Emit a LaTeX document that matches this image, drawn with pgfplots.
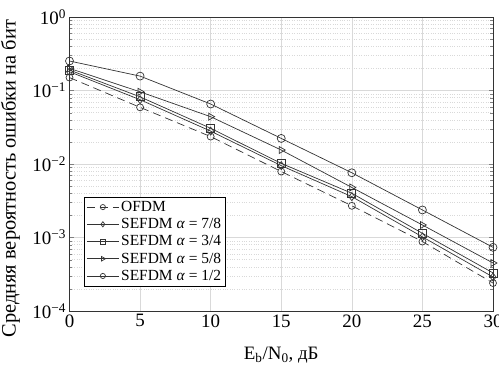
\documentclass[border=0pt]{standalone}
\usepackage{fontspec}
\setmainfont{Liberation Serif}
\usepackage{pgfplots}
\pgfplotsset{compat=1.18}
\begin{document}
\begin{tikzpicture}
\useasboundingbox (-69.5bp,-56bp) rectangle (429.5bp,311bp);
\begin{axis}[
  at={(0,0)}, anchor=south west,
  scale only axis, width=423.5bp, height=294bp,
  ymode=log, xmin=0, xmax=30, ymin=1e-4, ymax=1,
  xtick={0,5,...,30},
  ytick={1e-4,1e-3,1e-2,1e-1,1},
  yticklabels={10\textsuperscript{−4},10\textsuperscript{−3},10\textsuperscript{−2},10\textsuperscript{−1},10\textsuperscript{0}},
  /pgf/number format/assume math mode=true,
  tick label style={font=\fontsize{19}{21}\selectfont},
  xtick style={draw=none},
  xmajorgrids, ymajorgrids, yminorgrids,
  major grid style={gray!30},
  minor grid style={gray!30, dotted},
  tick align=inside,
  axis line style={black!80},
  xlabel={E\textsubscript{b}/N\textsubscript{0}, дБ},
  ylabel={Средняя вероятность ошибки на бит},
  xlabel style={font=\fontsize{19}{21}\selectfont, at={(axis description cs:0.5,-0.15)}, anchor=center},
  ylabel style={font=\fontsize{20.5}{22}\selectfont, at={(axis description cs:-0.1395,0.45)}, anchor=center},
  legend style={at={(rel axis cs:0.035,0.085)}, anchor=south west, draw=black,
    font=\fontsize{15.5}{17}\selectfont, row sep=1.5pt, inner sep=2pt},
  legend cell align=left,
  legend image post style={mark size=2.6bp},
  every axis plot/.append style={black!80, line width=0.7pt, mark size=4bp, mark options={solid, fill=none},
    legend image code/.code={\draw[mark repeat=2,mark phase=2,##1] plot coordinates {(0bp,0bp) (16bp,0bp) (32bp,0bp)};}},
]
\addplot[dash pattern=on 8pt off 5pt, mark=o, mark size=3.5bp] coordinates {(0,0.15) (5,0.059) (10,0.0236) (15,0.0079) (20,0.0027) (25,0.00088) (30,0.00024)};
\addlegendentry{OFDM}
\addplot[mark=diamond] coordinates {(0,0.18) (5,0.075) (10,0.028) (15,0.0095) (20,0.0036) (25,0.00102) (30,0.00029)};
\addlegendentry{SEFDM \textit{α} = 7/8}
\addplot[mark=square] coordinates {(0,0.19) (5,0.082) (10,0.0306) (15,0.0102) (20,0.0040) (25,0.00114) (30,0.00033)};
\addlegendentry{SEFDM \textit{α} = 3/4}
\addplot[mark=triangle, mark options={rotate=-90}] coordinates {(0,0.2) (5,0.096) (10,0.044) (15,0.0155) (20,0.0048) (25,0.00148) (30,0.00045)};
\addlegendentry{SEFDM \textit{α} = 5/8}
\addplot[mark=o] coordinates {(0,0.252) (5,0.157) (10,0.0655) (15,0.0223) (20,0.0076) (25,0.00237) (30,0.000735)};
\addlegendentry{SEFDM \textit{α} = 1/2}
\end{axis}
\end{tikzpicture}
\end{document}
